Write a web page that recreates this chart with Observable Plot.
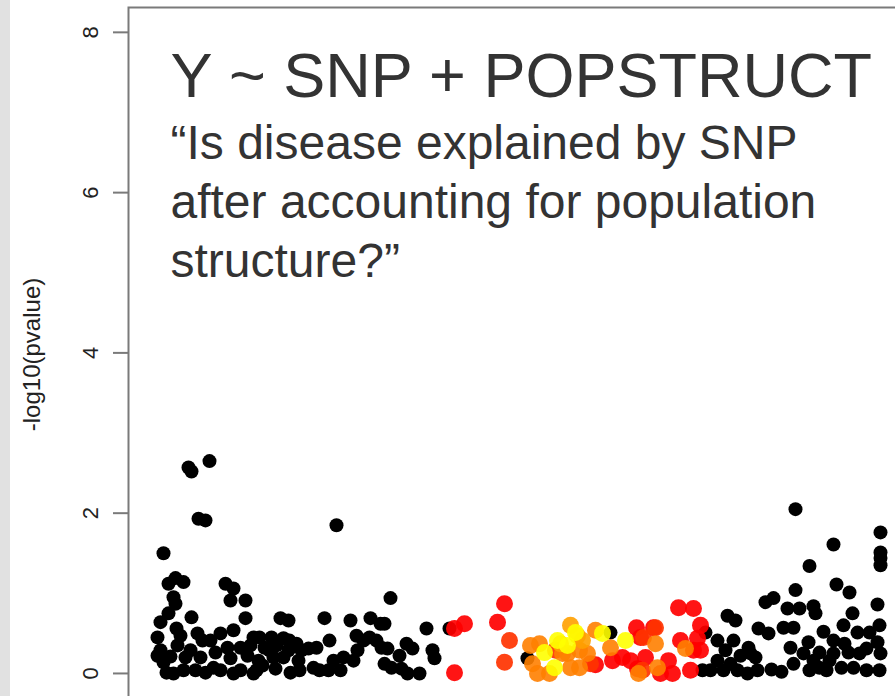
<!DOCTYPE html>
<html>
<head>
<meta charset="utf-8">
<script src="https://cdn.jsdelivr.net/npm/d3@7"></script>
<script src="https://cdn.jsdelivr.net/npm/@observablehq/plot@0.6"></script>
<style>
  html, body { margin: 0; padding: 0; }
  body { width: 895px; height: 696px; overflow: hidden;
         background: linear-gradient(to right, #e1e1e1 0, #e1e1e1 10px, #ffffff 10px); }
</style>
</head>
<body>
<div id="chart"></div>
<script>
// ---- texts ----
const titleText = ["Y ~ SNP + POPSTRUCT"];
const subtitleLines = ["\u201cIs disease explained by SNP", "after accounting for population", "structure?\u201d"];
const yLabel = ["-log10(pvalue)"];
const yTicks = [0, 2, 4, 6, 8];

// ---- data: [position, -log10(pvalue)] per LD colour class ----
const blackSnps = [
  [35,1.50],[60,2.57],[63,2.52],[81,2.65],[70,1.93],[77,1.91],[40,1.12],[47,1.19],[55,1.14],[45,0.95],
  [47,0.87],[40,0.75],[32,0.64],[63,0.70],[48,0.56],[29,0.45],[97,1.12],[105,1.06],[102,0.91],[117,0.91],
  [117,0.69],[32,0.29],[35,0.14],[38,0.01],[45,0.00],[55,0.04],[57,0.20],[49,0.35],[42,0.21],[62,0.29],
  [69,0.50],[72,0.20],[74,0.41],[82,0.41],[85,0.07],[92,0.04],[92,0.50],[99,0.32],[105,0.54],[105,0.00],
  [112,0.04],[112,0.32],[119,0.22],[125,0.45],[125,0.00],[29,0.22],[77,0.01],[67,0.04],[102,0.19],[87,0.26],
  [52,0.47],[130,0.16],[122,0.35],
  [152,0.69],[160,0.66],[196,0.69],[208,1.85],[222,0.66],[242,0.69],[252,0.62],[262,0.94],[131,0.45],[136,0.32],
  [143,0.45],[148,0.35],[155,0.44],[161,0.41],[160,0.29],[168,0.37],[173,0.29],[180,0.31],[188,0.32],[201,0.41],
  [170,0.16],[171,0.04],[185,0.07],[191,0.04],[200,0.04],[205,0.16],[215,0.20],[225,0.16],[145,0.20],[155,0.20],
  [141,0.29],[128,0.04],[228,0.47],[235,0.41],[241,0.45],[248,0.41],[253,0.32],[256,0.12],[134,0.10],[147,0.06],
  [162,0.01],[212,0.04],[229,0.29],
  [256,0.62],[298,0.56],[321,0.56],[259,0.31],[278,0.37],[284,0.31],[271,0.22],[304,0.29],[306,0.19],[263,0.07],
  [273,0.06],[279,0.00],[291,0.00],
  [399,0.19],[482,0.51],[577,0.51],[574,0.04],
  [589,0.41],[599,0.72],[607,0.66],[597,0.29],[605,0.41],[612,0.22],[589,0.16],[582,0.04],[595,0.04],[609,0.04],
  [619,0.00],[629,0.04],[630,0.56],[637,0.89],[620,0.32],[627,0.20],[602,0.12],[622,0.25],[643,0.05],[653,0.02],
  [662,0.32],[675,0.25],[667,2.05],[752,1.76],[705,1.61],[752,1.51],[752,1.44],[752,1.35],[681,1.34],[667,1.04],
  [708,1.11],[721,1.01],[749,0.86],[645,0.94],[659,0.81],[671,0.81],[685,0.84],[687,0.75],[724,0.75],[640,0.50],
  [655,0.57],[665,0.57],[680,0.39],[695,0.52],[715,0.60],[729,0.51],[741,0.51],[751,0.60],[749,0.39],[752,0.25],
  [705,0.41],[716,0.37],[738,0.31],[691,0.26],[705,0.25],[720,0.26],[731,0.25],[665,0.12],[681,0.04],[691,0.07],
  [701,0.16],[713,0.07],[725,0.07],[738,0.04],[751,0.04],[685,0.16],[698,0.04]
];
const redSnps = [
  [326,0.56],[336,0.62],[326,0.01],[376,0.87],[369,0.64],[467,0.11],[494,0.20],[502,0.16],[509,0.06],[508,0.57],
  [512,0.45],[525,0.57],[550,0.82],[565,0.81],[572,0.60],[540,0.16],[544,0.00],[532,0.00],[552,0.41],[562,0.04],
  [572,0.29],[569,0.44],[517,0.20],[565,0.29],[484,0.16]
];
const orangeRedSnps = [
  [381,0.41],[376,0.14],[515,0.45],[514,0.04],[527,0.57],[427,0.29],[462,0.12]
];
const orangeSnps = [
  [402,0.35],[411,0.37],[404,0.12],[409,0.00],[421,0.00],[434,0.25],[459,0.25],[451,0.29],[482,0.32],[467,0.54],
  [527,0.37],[529,0.07],[557,0.31],[510,0.00],[442,0.07],[451,0.07],[439,0.25]
];
const lightOrangeSnps = [
  [442,0.60],[449,0.47],[454,0.41],[432,0.37]
];
const yellowSnps = [
  [416,0.26],[429,0.41],[439,0.35],[426,0.07],[474,0.50],[497,0.41],[447,0.51]
];

const colourGroups = [
  {data: blackSnps, fill: "#000000", opacity: 1, r: 7},
  {data: redSnps, fill: "#ff0000", opacity: 0.92, r: 8.5},
  {data: orangeRedSnps, fill: "#ff3300", opacity: 0.92, r: 8.5},
  {data: orangeSnps, fill: "#ff8000", opacity: 0.9, r: 8.5},
  {data: lightOrangeSnps, fill: "#ffa000", opacity: 0.9, r: 8.5},
  {data: yellowSnps, fill: "#ffff00", opacity: 0.9, r: 8.5}
];

const font = "'Liberation Sans', Arial, Helvetica, sans-serif";

const chart = Plot.plot({
  width: 895,
  height: 696,
  marginLeft: 128,
  marginTop: 7,
  marginRight: -20,
  marginBottom: -5,
  style: {background: "transparent", overflow: "hidden", fontFamily: font},
  x: {domain: [0, 787], axis: null},
  y: {domain: [-0.35, 8.31], axis: null},
  marks: [
    ...colourGroups.map(g => Plot.dot(g.data, {
      x: d => d[0], y: d => d[1], r: g.r, fill: g.fill, fillOpacity: g.opacity, stroke: null
    })),
    Plot.frame({stroke: "#7a7a7a", strokeWidth: 2}),
    Plot.axisY({
      ticks: yTicks, anchor: "left", tickSize: 15, tickPadding: 16, tickRotate: -90,
      fontSize: 22, stroke: "#7a7a7a", strokeWidth: 2, fill: "#222", label: null
    }),
    Plot.text(yLabel, {
      text: d => d, frameAnchor: "left", rotate: -90, dx: -96, lineAnchor: "middle",
      textAnchor: "middle", fontSize: 24, fill: "#222"
    }),
    Plot.text(titleText, {
      text: d => d, frameAnchor: "top-left", textAnchor: "start", lineAnchor: "top",
      dx: 42, dy: 45, fontSize: 63, fill: "#333"
    }),
    Plot.text([subtitleLines.join("\n")], {
      text: d => d, frameAnchor: "top-left", textAnchor: "start", lineAnchor: "top",
      dx: 42, dy: 110, fontSize: 48, lineHeight: 1.23, fill: "#333"
    })
  ]
});
document.getElementById("chart").appendChild(chart);
</script>
</body>
</html>
